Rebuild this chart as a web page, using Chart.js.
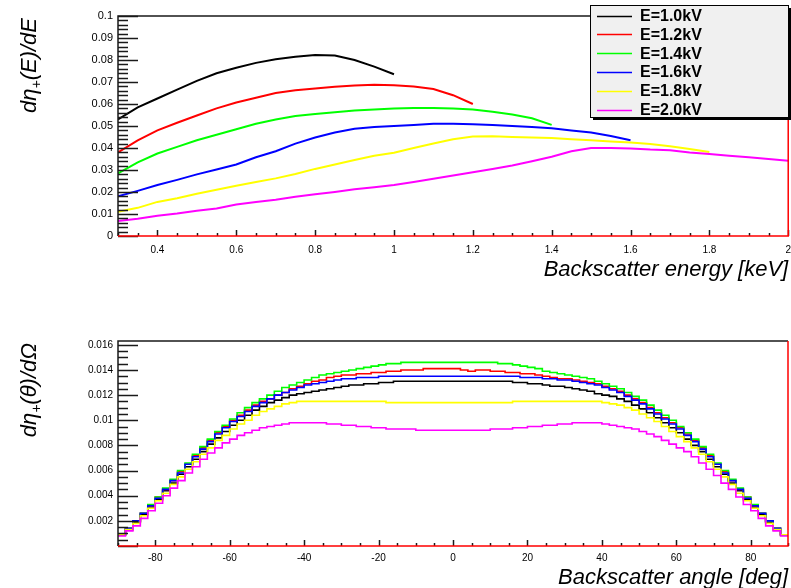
<!DOCTYPE html>
<html>
<head>
<meta charset="utf-8">
<script src="https://cdn.jsdelivr.net/npm/chart.js@4.4.0/dist/chart.umd.min.js"></script>
<style>
  html, body { margin: 0; padding: 0; background: #fff; overflow: hidden; }
  #wrap { position: relative; width: 791px; height: 588px; overflow: hidden; }
  canvas { position: absolute; left: 0; }
</style>
</head>
<body>
<div id="wrap">
  <canvas id="energyChart" width="799" height="300" style="top:0"></canvas>
  <canvas id="angleChart" width="791" height="288" style="top:300px"></canvas>
</div>
<script>
const seriesLabels = ['E=1.0kV', 'E=1.2kV', 'E=1.4kV', 'E=1.6kV', 'E=1.8kV', 'E=2.0kV'];
const seriesColors = ['#000000', '#ff0000', '#00ff00', '#0000ff', '#ffff00', '#ff00ff'];

// top panel: backscatter energy spectra, one value per energy point until the beam energy
const energyGrid = [0.30, 0.35, 0.40, 0.45, 0.50, 0.55, 0.60, 0.65, 0.70, 0.75, 0.80, 0.85, 0.90, 0.95, 1.00,
  1.05, 1.10, 1.15, 1.20, 1.25, 1.30, 1.35, 1.40, 1.45, 1.50, 1.55, 1.60, 1.65, 1.70, 1.75, 1.80, 1.85, 1.90, 1.95, 2.00];
const spectrum10 = [0.0530, 0.0585, 0.0625, 0.0665, 0.0705, 0.0740, 0.0765, 0.0787, 0.0803, 0.0815, 0.0823, 0.0820, 0.0800, 0.0770, 0.0735];
const spectrum12 = [0.0380, 0.0435, 0.0480, 0.0515, 0.0548, 0.0580, 0.0607, 0.0628, 0.0650, 0.0662, 0.0670, 0.0678, 0.0684, 0.0688, 0.0685,
  0.0680, 0.0668, 0.0640, 0.0600];
const spectrum14 = [0.0285, 0.0335, 0.0375, 0.0405, 0.0435, 0.0460, 0.0485, 0.0510, 0.0530, 0.0545, 0.0555, 0.0563, 0.0570, 0.0575, 0.0580,
  0.0582, 0.0582, 0.0580, 0.0575, 0.0565, 0.0552, 0.0535, 0.0505];
const spectrum16 = [0.0180, 0.0205, 0.0232, 0.0255, 0.0280, 0.0302, 0.0325, 0.0358, 0.0385, 0.0420, 0.0448, 0.0470, 0.0487, 0.0495, 0.0500,
  0.0505, 0.0510, 0.0510, 0.0508, 0.0505, 0.0500, 0.0495, 0.0490, 0.0480, 0.0470, 0.0455, 0.0435];
const spectrum18 = [0.0110, 0.0128, 0.0155, 0.0172, 0.0192, 0.0210, 0.0228, 0.0245, 0.0262, 0.0282, 0.0305, 0.0325, 0.0345, 0.0365, 0.0378,
  0.0400, 0.0420, 0.0440, 0.0452, 0.0453, 0.0450, 0.0448, 0.0445, 0.0440, 0.0435, 0.0430, 0.0425, 0.0418, 0.0408, 0.0395, 0.0382];
const spectrum20 = [0.0068, 0.0078, 0.0092, 0.0102, 0.0115, 0.0125, 0.0143, 0.0155, 0.0165, 0.0178, 0.0190, 0.0200, 0.0212, 0.0222, 0.0232,
  0.0245, 0.0260, 0.0275, 0.0290, 0.0305, 0.0320, 0.0340, 0.0360, 0.0385, 0.0400, 0.0400, 0.0398, 0.0393, 0.0390, 0.0380, 0.0373,
  0.0365, 0.0358, 0.0350, 0.0342];
const energyTicks = [0.4, 0.6, 0.8, 1, 1.2, 1.4, 1.6, 1.8, 2];
const spectrumTicks = [0, 0.01, 0.02, 0.03, 0.04, 0.05, 0.06, 0.07, 0.08, 0.09, 0.1];

// bottom panel: angular distributions, 2 degree bins from -90 to 90
const angular10 = [
  0.0009, 0.0013, 0.0019, 0.0025, 0.0031, 0.0037, 0.0044, 0.0050, 0.0057, 0.0063,
  0.0069, 0.0075, 0.0081, 0.0086, 0.0091, 0.0096, 0.0100, 0.0104, 0.0108, 0.0111,
  0.0114, 0.0116, 0.0118, 0.0120, 0.0121, 0.0122, 0.0123, 0.0124, 0.0125, 0.0126,
  0.0127, 0.0128, 0.0128, 0.0129, 0.0129, 0.0130, 0.0130, 0.0131, 0.0131, 0.0131,
  0.0131, 0.0131, 0.0131, 0.0131, 0.0131,
  0.0131, 0.0131, 0.0131, 0.0131, 0.0131, 0.0131, 0.0131, 0.0131, 0.0130, 0.0130,
  0.0129, 0.0129, 0.0128, 0.0127, 0.0127, 0.0126, 0.0125, 0.0124, 0.0123, 0.0121,
  0.0120, 0.0119, 0.0117, 0.0115, 0.0112, 0.0109, 0.0106, 0.0102, 0.0098, 0.0094,
  0.0090, 0.0085, 0.0080, 0.0075, 0.0069, 0.0063, 0.0057, 0.0050, 0.0044, 0.0037,
  0.0031, 0.0025, 0.0019, 0.0013, 0.0009];
const angular12 = [
  0.0009, 0.0014, 0.0020, 0.0026, 0.0032, 0.0039, 0.0045, 0.0052, 0.0059, 0.0065,
  0.0072, 0.0078, 0.0084, 0.0090, 0.0095, 0.0100, 0.0104, 0.0108, 0.0112, 0.0115,
  0.0117, 0.0120, 0.0122, 0.0125, 0.0127, 0.0129, 0.0131, 0.0132, 0.0134, 0.0135,
  0.0136, 0.0136, 0.0137, 0.0137, 0.0138, 0.0138, 0.0139, 0.0139, 0.0140, 0.0140,
  0.0140, 0.0141, 0.0141, 0.0141, 0.0141,
  0.0141, 0.0140, 0.0139, 0.0140, 0.0140, 0.0139, 0.0139, 0.0138, 0.0138, 0.0137,
  0.0137, 0.0136, 0.0135, 0.0134, 0.0133, 0.0133, 0.0132, 0.0131, 0.0130, 0.0129,
  0.0127, 0.0125, 0.0123, 0.0120, 0.0117, 0.0114, 0.0110, 0.0106, 0.0102, 0.0098,
  0.0094, 0.0089, 0.0084, 0.0078, 0.0072, 0.0065, 0.0059, 0.0052, 0.0045, 0.0039,
  0.0032, 0.0026, 0.0020, 0.0014, 0.0009];
const angular14 = [
  0.0009, 0.0014, 0.0020, 0.0026, 0.0033, 0.0039, 0.0046, 0.0053, 0.0060, 0.0066,
  0.0073, 0.0079, 0.0085, 0.0091, 0.0096, 0.0101, 0.0106, 0.0110, 0.0114, 0.0117,
  0.0120, 0.0123, 0.0126, 0.0128, 0.0130, 0.0132, 0.0134, 0.0136, 0.0137, 0.0138,
  0.0139, 0.0140, 0.0141, 0.0142, 0.0143, 0.0144, 0.0145, 0.0145, 0.0146, 0.0146,
  0.0146, 0.0146, 0.0146, 0.0146, 0.0146,
  0.0146, 0.0146, 0.0146, 0.0146, 0.0146, 0.0146, 0.0145, 0.0145, 0.0144, 0.0143,
  0.0142, 0.0141, 0.0139, 0.0138, 0.0137, 0.0136, 0.0135, 0.0134, 0.0133, 0.0131,
  0.0129, 0.0127, 0.0125, 0.0122, 0.0119, 0.0116, 0.0112, 0.0108, 0.0104, 0.0100,
  0.0095, 0.0090, 0.0085, 0.0079, 0.0073, 0.0066, 0.0060, 0.0053, 0.0046, 0.0039,
  0.0033, 0.0026, 0.0020, 0.0014, 0.0009];
const angular16 = [
  0.0009, 0.0014, 0.0020, 0.0026, 0.0032, 0.0038, 0.0045, 0.0052, 0.0058, 0.0065,
  0.0071, 0.0077, 0.0083, 0.0089, 0.0094, 0.0099, 0.0103, 0.0107, 0.0111, 0.0114,
  0.0117, 0.0120, 0.0122, 0.0124, 0.0126, 0.0128, 0.0129, 0.0130, 0.0131, 0.0132,
  0.0133, 0.0133, 0.0134, 0.0134, 0.0134, 0.0135, 0.0135, 0.0135, 0.0135, 0.0135,
  0.0135, 0.0135, 0.0135, 0.0135, 0.0135,
  0.0135, 0.0135, 0.0135, 0.0135, 0.0135, 0.0135, 0.0135, 0.0135, 0.0135, 0.0134,
  0.0134, 0.0134, 0.0133, 0.0133, 0.0132, 0.0132, 0.0131, 0.0130, 0.0129, 0.0128,
  0.0126, 0.0124, 0.0122, 0.0119, 0.0116, 0.0113, 0.0109, 0.0105, 0.0101, 0.0097,
  0.0093, 0.0088, 0.0083, 0.0077, 0.0071, 0.0065, 0.0058, 0.0052, 0.0045, 0.0038,
  0.0032, 0.0026, 0.0020, 0.0014, 0.0009];
const angular18 = [
  0.0009, 0.0013, 0.0018, 0.0024, 0.0030, 0.0036, 0.0042, 0.0049, 0.0055, 0.0061,
  0.0067, 0.0073, 0.0078, 0.0084, 0.0088, 0.0093, 0.0097, 0.0100, 0.0104, 0.0107,
  0.0109, 0.0111, 0.0113, 0.0114, 0.0115, 0.0115, 0.0115, 0.0115, 0.0115, 0.0115,
  0.0115, 0.0115, 0.0115, 0.0115, 0.0115, 0.0115, 0.0114, 0.0114, 0.0114, 0.0114,
  0.0114, 0.0114, 0.0114, 0.0114, 0.0114,
  0.0114, 0.0114, 0.0114, 0.0114, 0.0114, 0.0114, 0.0114, 0.0114, 0.0115, 0.0115,
  0.0115, 0.0115, 0.0115, 0.0115, 0.0115, 0.0115, 0.0115, 0.0115, 0.0115, 0.0115,
  0.0114, 0.0113, 0.0112, 0.0110, 0.0108, 0.0105, 0.0102, 0.0099, 0.0095, 0.0091,
  0.0087, 0.0083, 0.0078, 0.0073, 0.0067, 0.0061, 0.0055, 0.0049, 0.0042, 0.0036,
  0.0030, 0.0024, 0.0018, 0.0013, 0.0009];
const angular20 = [
  0.0008, 0.0012, 0.0016, 0.0022, 0.0028, 0.0034, 0.0040, 0.0046, 0.0052, 0.0058,
  0.0063, 0.0069, 0.0074, 0.0078, 0.0082, 0.0085, 0.0088, 0.0090, 0.0092, 0.0094,
  0.0095, 0.0096, 0.0097, 0.0098, 0.0098, 0.0098, 0.0098, 0.0098, 0.0097, 0.0097,
  0.0096, 0.0096, 0.0095, 0.0095, 0.0094, 0.0094, 0.0093, 0.0093, 0.0093, 0.0093,
  0.0092, 0.0092, 0.0092, 0.0092, 0.0092,
  0.0092, 0.0092, 0.0092, 0.0092, 0.0092, 0.0093, 0.0093, 0.0093, 0.0094, 0.0094,
  0.0095, 0.0095, 0.0096, 0.0096, 0.0097, 0.0097, 0.0098, 0.0098, 0.0098, 0.0098,
  0.0097, 0.0096, 0.0095, 0.0094, 0.0093, 0.0091, 0.0089, 0.0087, 0.0084, 0.0081,
  0.0078, 0.0075, 0.0071, 0.0066, 0.0061, 0.0056, 0.0050, 0.0045, 0.0039, 0.0033,
  0.0028, 0.0022, 0.0016, 0.0012, 0.0008];
const angleTicks = [-80, -60, -40, -20, 0, 20, 40, 60, 80];
const angularTicks = [0.002, 0.004, 0.006, 0.008, 0.01, 0.012, 0.014, 0.016];

const spectra = [spectrum10, spectrum12, spectrum14, spectrum16, spectrum18, spectrum20];
const angulars = [angular10, angular12, angular14, angular16, angular18, angular20];

const FONT = "'Liberation Sans', Arial, Helvetica, sans-serif";
const fmt = v => String(parseFloat(Number(v).toFixed(4)));

// bin low edges, plus the upper edge of the last bin
const angleEdges = [];
for (let a = -90; a <= 90; a += 2) angleEdges.push(a);

// ROOT-like frame: ticks drawn inside, black top/left, red bottom/right, y title, legend
const rootFrame = {
    id: 'rootFrame',
    afterDatasetsDraw(chart, args, opts) {
        const ctx = chart.ctx;
        const a = chart.chartArea;
        const xs = chart.scales.x;
        const ys = chart.scales.y;
        ctx.save();
        ctx.lineWidth = 1.5;
        ctx.strokeStyle = '#1a1a1a';

        // y ticks
        for (let v = ys.min; v <= ys.max + 1e-9; v += opts.yMinor) {
            const isMajor = Math.abs(v / opts.yMajor - Math.round(v / opts.yMajor)) < 1e-6;
            const py = Math.round(ys.getPixelForValue(v)) + 0.5;
            ctx.beginPath();
            ctx.moveTo(a.left, py);
            ctx.lineTo(a.left + (isMajor ? 20 : 10), py);
            ctx.stroke();
        }
        // x ticks
        const x0 = Math.ceil(xs.min / opts.xMinor - 1e-6) * opts.xMinor;
        for (let v = x0; v <= xs.max + 1e-9; v += opts.xMinor) {
            const isMajor = Math.abs(v / opts.xMajor - Math.round(v / opts.xMajor)) < 1e-6;
            const px = Math.round(xs.getPixelForValue(v)) + 0.5;
            ctx.beginPath();
            ctx.moveTo(px, a.bottom);
            ctx.lineTo(px, a.bottom - (isMajor ? 6 : 3));
            ctx.stroke();
        }

        // frame
        ctx.beginPath();
        ctx.moveTo(a.left, a.bottom);
        ctx.lineTo(a.left, a.top);
        ctx.lineTo(a.right, a.top);
        ctx.stroke();
        ctx.strokeStyle = '#ff0000';
        ctx.beginPath();
        ctx.moveTo(a.left, a.bottom);
        ctx.lineTo(a.right, a.bottom);
        ctx.lineTo(a.right, a.top);
        ctx.stroke();

        // rotated y title with subscript, right aligned to the top of the frame
        const t = opts.yTitle;
        const big = 'italic 22px ' + FONT;
        const small = 'italic 14px ' + FONT;
        ctx.font = big;
        const w1 = ctx.measureText(t.pre).width;
        const w3 = ctx.measureText(t.post).width;
        ctx.font = small;
        const w2 = ctx.measureText(t.sub).width;
        const total = w1 + w2 + w3;
        ctx.translate(36, a.top + 2 + total);
        ctx.rotate(-Math.PI / 2);
        ctx.fillStyle = '#000';
        ctx.textBaseline = 'alphabetic';
        ctx.textAlign = 'left';
        ctx.font = big;
        ctx.fillText(t.pre, 0, 0);
        ctx.font = small;
        ctx.fillText(t.sub, w1, 5);
        ctx.font = big;
        ctx.fillText(t.post, w1 + w2, 0);
        ctx.restore();

        if (opts.legend) {
            const box = {x: 590, y: 5, w: 198, h: 112};
            ctx.save();
            ctx.fillStyle = '#000';
            ctx.fillRect(box.x + 3, box.y + 3, box.w, box.h);
            ctx.fillStyle = '#f0f0f0';
            ctx.fillRect(box.x, box.y, box.w, box.h);
            ctx.strokeStyle = '#000';
            ctx.lineWidth = 1;
            ctx.strokeRect(box.x + 0.5, box.y + 0.5, box.w, box.h);
            ctx.font = 'bold 16px ' + FONT;
            ctx.textBaseline = 'middle';
            ctx.textAlign = 'left';
            chart.data.datasets.forEach((ds, i) => {
                const ry = box.y + 10.5 + i * 18.8;
                ctx.strokeStyle = ds.borderColor;
                ctx.lineWidth = 1.5;
                ctx.beginPath();
                ctx.moveTo(597, Math.round(ry) + 0.5);
                ctx.lineTo(632, Math.round(ry) + 0.5);
                ctx.stroke();
                ctx.fillStyle = '#000';
                ctx.fillText(ds.label, 640, ry + 1);
            });
            ctx.restore();
        }
    }
};

function axisX(min, max, ticks, title, height, tickPad, titlePad) {
    return {
        type: 'linear', min: min, max: max,
        grid: { display: false, drawTicks: false, tickLength: 0 },
        border: { display: false },
        afterBuildTicks: s => { s.ticks = ticks.map(v => ({value: v})); },
        afterFit: s => { s.height = height; },
        ticks: { padding: tickPad, autoSkip: false, maxRotation: 0, color: '#000',
                 font: { family: FONT, size: 10 }, callback: v => fmt(v) },
        title: { display: true, text: title, align: 'end', color: '#000',
                 font: { family: FONT, size: 22, style: 'italic' }, padding: { top: 0, bottom: titlePad } }
    };
}

function axisY(min, max, ticks, size) {
    return {
        min: min, max: max,
        grid: { display: false, drawTicks: false, tickLength: 0 },
        border: { display: false },
        afterBuildTicks: s => { s.ticks = ticks.map(v => ({value: v})); },
        afterFit: s => { s.width = 118; },
        ticks: { padding: 5, autoSkip: false, color: '#000',
                 font: { family: FONT, size: size }, callback: v => fmt(v) }
    };
}

new Chart(document.getElementById('energyChart'), {
    type: 'line',
    data: {
        datasets: spectra.map((vals, i) => ({
            label: seriesLabels[i],
            data: vals.map((v, j) => ({x: energyGrid[j], y: v})),
            borderColor: seriesColors[i],
            borderWidth: 2,
            pointRadius: 0,
            tension: 0,
            order: 5 - i
        }))
    },
    options: {
        responsive: false,
        animation: false,
        layout: { padding: { top: 16, right: 3, left: 0, bottom: 0 } },
        plugins: {
            legend: { display: false },
            tooltip: { enabled: false },
            rootFrame: { yMinor: 0.002, yMajor: 0.01, xMinor: 0.05, xMajor: 0.2, legend: true,
                         yTitle: { pre: 'dη', sub: '+', post: '(E)/dE' } }
        },
        scales: {
            x: axisX(0.3, 2, energyTicks, 'Backscatter energy [keV]', 64, 8, 17),
            y: axisY(0, 0.1, spectrumTicks, 11)
        }
    },
    plugins: [rootFrame]
});

new Chart(document.getElementById('angleChart'), {
    type: 'line',
    data: {
        datasets: angulars.map((vals, i) => ({
            label: seriesLabels[i],
            data: vals.map((v, j) => ({x: angleEdges[j], y: v})).concat([{x: 90, y: vals[vals.length - 1]}]),
            borderColor: seriesColors[i],
            borderWidth: 1.6,
            pointRadius: 0,
            stepped: 'before',
            order: 5 - i
        }))
    },
    options: {
        responsive: false,
        animation: false,
        layout: { padding: { top: 41, right: 3, left: 0, bottom: 0 } },
        plugins: {
            legend: { display: false },
            tooltip: { enabled: false },
            rootFrame: { yMinor: 0.0005, yMajor: 0.002, xMinor: 5, xMajor: 20, legend: false,
                         yTitle: { pre: 'dη', sub: '+', post: '(θ)/dΩ' } }
        },
        scales: {
            x: axisX(-90, 90, angleTicks, 'Backscatter angle [deg]', 42, 6, -3),
            y: axisY(0, 0.0163, angularTicks, 10)
        }
    },
    plugins: [rootFrame]
});
</script>
</body>
</html>
